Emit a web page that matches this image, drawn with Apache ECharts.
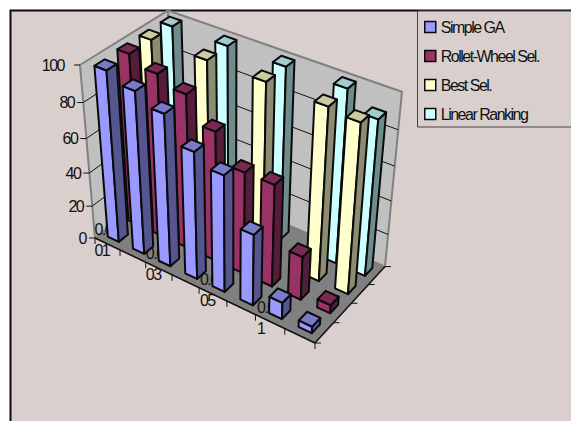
<!DOCTYPE html>
<html>
<head>
<meta charset="utf-8">
<style>
  html, body { margin: 0; padding: 0; background: #fff; }
  #chart { width: 571px; height: 421px; }
  text { letter-spacing: -1.5px; }
</style>
<script src="https://cdn.jsdelivr.net/npm/echarts@6/dist/echarts.min.js"></script>
</head>
<body>
<div id="chart"></div>
<script>
// Mutation-rate categories along the front axis
const categories = ['0.001', '0.002', '0.003', '0.004', '0.005', '0.0075', '0.01', '0.05'];
const categoryLabels = ['0.0\n01', '', '0.0\n03', '', '0.0\n05', '', '0.0\n1', ''];
const valueTicks = [0, 20, 40, 60, 80, 100];

// Series, front row to back row
const simpleGA = [99, 94, 88, 74, 68, 42, 10, 4];
const rouletteWheel = [100, 95, 90, 76, 60, 60, 26, 5];
const bestSel = [100, null, 100, null, 100, null, 99, 97];
const linearRanking = [100, null, 100, null, 100, null, 100, 90];

const seriesNames = ['Simple GA', 'Rollet-Wheel Sel.', 'Best Sel.', 'Linear Ranking'];
const seriesValues = [simpleGA, rouletteWheel, bestSel, linearRanking];
const frontColors = ['#9999ff', '#993366', '#ffffcc', '#ccffff'];
const topColors = ['#7a7acc', '#7a2952', '#cccca3', '#a3cccc'];
const sideColors = ['#555590', '#561d3a', '#8c8c72', '#6f8c8c'];

// Perspective box: screen position of the box origin and the weights along each axis
const origin = [95, 238];
const axisU = [188.0, 70.2];
const axisV = [92.2, -48.4];
const axisH = [-22.84, -179.37];
const weightU = -0.1015, weightV = 0.0761, weightH = -0.098;

// The hidden grid supplies the category and value scales; its rectangle is a unit model space
const MODEL = 400;
const BAR_FRACTION = 0.44;
const FONT = '16px "Liberation Sans", Arial, sans-serif';

function project(u, v, h) {
  const w = 1 + weightU * u + weightV * v + weightH * h;
  return [
    (origin[0] + axisU[0] * u + axisV[0] * v + axisH[0] * h) / w,
    (origin[1] + axisU[1] * u + axisV[1] * v + axisH[1] * h) / w
  ];
}

function poly(points, fill, stroke, lineWidth) {
  return {
    type: 'polygon',
    shape: { points: points },
    style: { fill: fill, stroke: stroke, lineWidth: lineWidth, lineJoin: 'round' }
  };
}

function line(a, b, stroke, lineWidth) {
  return {
    type: 'line',
    shape: { x1: a[0], y1: a[1], x2: b[0], y2: b[1] },
    style: { stroke: stroke, lineWidth: lineWidth }
  };
}

function label(text, x, y, align, lineHeight) {
  return {
    type: 'text',
    x: x,
    y: y,
    style: {
      text: text,
      fill: '#111',
      font: FONT,
      align: align,
      verticalAlign: 'middle',
      lineHeight: lineHeight
    }
  };
}

function renderBar(rowIndex) {
  return function (params, api) {
    const center = api.coord([api.value(0), api.value(1)]);
    const base = api.coord([api.value(0), 0]);
    const band = api.size([1, 0])[0];
    const halfU = band * BAR_FRACTION / 2 / MODEL;
    const cellV = 1 / seriesNames.length;
    const u = center[0] / MODEL;
    const v = (rowIndex + 0.5) * cellV;
    const u0 = u - halfU, u1 = u + halfU;
    const v0 = v - cellV * BAR_FRACTION / 2, v1 = v + cellV * BAR_FRACTION / 2;
    const h = (base[1] - center[1]) / MODEL;
    const ink = '#0a0a0a';
    return {
      type: 'group',
      children: [
        poly([project(u0, v0, 0), project(u1, v0, 0), project(u1, v0, h), project(u0, v0, h)], frontColors[rowIndex], ink, 2),
        poly([project(u1, v0, 0), project(u1, v1, 0), project(u1, v1, h), project(u1, v0, h)], sideColors[rowIndex], ink, 2),
        poly([project(u0, v0, h), project(u1, v0, h), project(u1, v1, h), project(u0, v1, h)], topColors[rowIndex], ink, 2)
      ]
    };
  };
}

function renderFrame(params, api) {
  const children = [];
  const wallGrey = '#c0c0c0', floorGrey = '#808080', edgeGrey = '#808080', ink = '#111';
  const rows = seriesNames.length;
  const cols = categories.length;

  children.push(poly([project(0, 0, 0), project(0, 1, 0), project(0, 1, 1), project(0, 0, 1)], wallGrey, edgeGrey, 2));
  children.push(poly([project(0, 1, 0), project(1, 1, 0), project(1, 1, 1), project(0, 1, 1)], wallGrey, edgeGrey, 2));
  children.push(poly([project(0, 0, 0), project(1, 0, 0), project(1, 1, 0), project(0, 1, 0)], floorGrey, floorGrey, 1));

  valueTicks.forEach(function (tick) {
    const y = api.coord([0, tick])[1];
    const h = (MODEL - y) / MODEL;
    if (tick > 0 && tick < 100) {
      children.push(line(project(0, 0, h), project(0, 1, h), ink, 1));
      children.push(line(project(0, 1, h), project(1, 1, h), ink, 1));
    }
    const p = project(0, 0, h);
    children.push(line([p[0] - 6, p[1]], p, ink, 1));
    children.push(label(String(tick), p[0] - (tick === 100 ? 16 : 9), p[1], 'right'));
  });

  children.push(line(project(0, 0, 0), project(1, 0, 0), ink, 1.5));
  children.push(line(project(1, 0, 0), project(1, 1, 0), ink, 1.5));

  for (let i = 0; i <= cols; i++) {
    const p = project(i / cols, 0, 0);
    children.push(line(p, [p[0], p[1] + 6], ink, 1));
  }
  for (let j = 0; j <= rows; j++) {
    const p = project(1, j / rows, 0);
    children.push(line(p, [p[0] + 6, p[1]], ink, 1));
  }

  categoryLabels.forEach(function (text, i) {
    if (!text) return;
    const x = api.coord([i, 0])[0] / MODEL;
    const p = project(x, 0, 0);
    children.push(label(text, p[0] - 13, p[1] - 4, 'left', 21));
  });

  return { type: 'group', children: children };
}

const barSeries = seriesNames.map(function (name, row) {
  const data = [];
  seriesValues[row].forEach(function (value, i) {
    if (value !== null) data.push([i, value]);
  });
  return {
    type: 'custom',
    name: name,
    z: 10 - row,
    data: data,
    encode: { x: 0, y: 1 },
    itemStyle: { color: frontColors[row] },
    renderItem: renderBar(row),
    clip: false
  };
});

const chart = echarts.init(document.getElementById('chart'), null, { renderer: 'svg' });
chart.setOption({
  animation: false,
  backgroundColor: 'transparent',
  grid: { left: 0, top: 0, width: MODEL, height: MODEL, show: false },
  xAxis: { type: 'category', data: categories, show: false },
  yAxis: { type: 'value', min: 0, max: 100, show: false },
  legend: {
    orient: 'vertical',
    left: 424,
    top: 19,
    padding: 0,
    align: 'left',
    icon: 'rect',
    itemWidth: 11,
    itemHeight: 11,
    itemGap: 13,
    selectedMode: false,
    data: seriesNames,
    itemStyle: { borderColor: '#0a0a0a', borderWidth: 1.5 },
    textStyle: { color: '#111', fontFamily: '"Liberation Sans", Arial, sans-serif', fontSize: 16 }
  },
  graphic: [
    {
      type: 'rect',
      z: -5,
      shape: { x: 10.5, y: 10.5, width: 640, height: 480 },
      style: { fill: '#d9cfcd', stroke: '#0a0a0a', lineWidth: 2 }
    },
    {
      type: 'rect',
      z: -4,
      shape: { x: 417.5, y: 11, width: 240, height: 116 },
      style: { fill: '#d9cfcd', stroke: '#444', lineWidth: 1 }
    }
  ],
  series: [{
    type: 'custom',
    name: 'frame',
    z: 2,
    silent: true,
    data: [[0, 0]],
    encode: { x: 0, y: 1 },
    renderItem: renderFrame,
    clip: false
  }].concat(barSeries)
});
</script>
</body>
</html>
